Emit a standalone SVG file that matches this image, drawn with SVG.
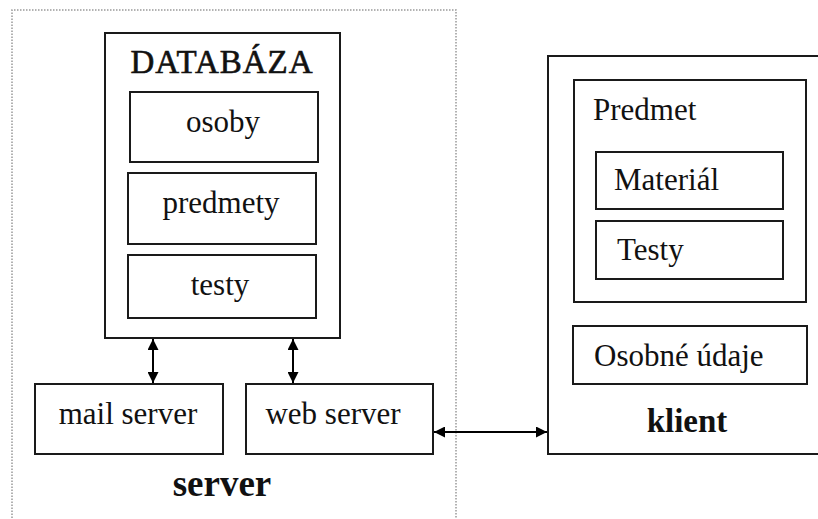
<svg xmlns="http://www.w3.org/2000/svg" width="818" height="519" viewBox="0 0 818 519">
<style>
.box{fill:#fff;stroke:#1a1a1a;stroke-width:2}
.t{font-family:"Liberation Serif","Times New Roman",serif;font-size:31px;fill:#111}
.c{text-anchor:middle}
.b{font-weight:bold}
.conn{stroke:#000;stroke-width:2;fill:none}
</style>
<defs>
<marker id="ah" viewBox="0 0 10 10" refX="10" refY="5" markerWidth="12" markerHeight="11" markerUnits="userSpaceOnUse" orient="auto-start-reverse">
<path d="M0,0 L10,5 L0,10 Z" fill="#000"/>
</marker>
</defs>
<rect x="0" y="0" width="818" height="519" fill="#fff"/>
<g id="server">
<path d="M12,530 V10 H456 V530" fill="none" stroke="#999" stroke-width="1.5" stroke-dasharray="1.5,1.5"/>
<text class="t c b" x="222" y="496" style="font-size:37px">server</text>
</g>
<g id="databaza">
<rect class="box" x="105" y="33" width="235" height="305"/>
<text class="t c" x="222" y="73" style="font-size:33px" letter-spacing="1" stroke="#111" stroke-width="0.6">DATABÁZA</text>
</g>
<g id="osoby">
<rect class="box" x="130" y="92" width="188" height="70"/>
<text class="t c" x="223" y="132">osoby</text>
</g>
<g id="predmety">
<rect class="box" x="128" y="173" width="188" height="71"/>
<text class="t c" x="221" y="213">predmety</text>
</g>
<g id="testy">
<rect class="box" x="128" y="255" width="188" height="63"/>
<text class="t c" x="220" y="295">testy</text>
</g>
<g id="mail">
<rect class="box" x="35" y="384" width="188" height="70"/>
<text class="t c" x="128" y="424">mail server</text>
</g>
<g id="web">
<rect class="box" x="246" y="384" width="187" height="70"/>
<text class="t c" x="333" y="424">web server</text>
</g>
<g id="klient">
<rect class="box" x="548" y="56" width="290" height="398"/>
<text class="t c b" x="687" y="432" style="font-size:33px">klient</text>
</g>
<g id="predmet">
<rect class="box" x="574" y="80" width="232" height="222"/>
<text class="t" x="593" y="120">Predmet</text>
</g>
<g id="material">
<rect class="box" x="596" y="152" width="187" height="57"/>
<text class="t" x="614" y="190">Materiál</text>
</g>
<g id="testy2">
<rect class="box" x="596" y="221" width="187" height="58"/>
<text class="t" x="617" y="260">Testy</text>
</g>
<g id="osobne">
<rect class="box" x="573" y="326" width="234" height="58"/>
<text class="t" x="594" y="366">Osobné údaje</text>
</g>
<g id="connectors">
<line class="conn" x1="153" y1="339" x2="153" y2="383" marker-start="url(#ah)" marker-end="url(#ah)"/>
<line class="conn" x1="293" y1="339" x2="293" y2="383" marker-start="url(#ah)" marker-end="url(#ah)"/>
<line class="conn" x1="434" y1="432" x2="547" y2="432" marker-start="url(#ah)" marker-end="url(#ah)"/>
</g>
</svg>
